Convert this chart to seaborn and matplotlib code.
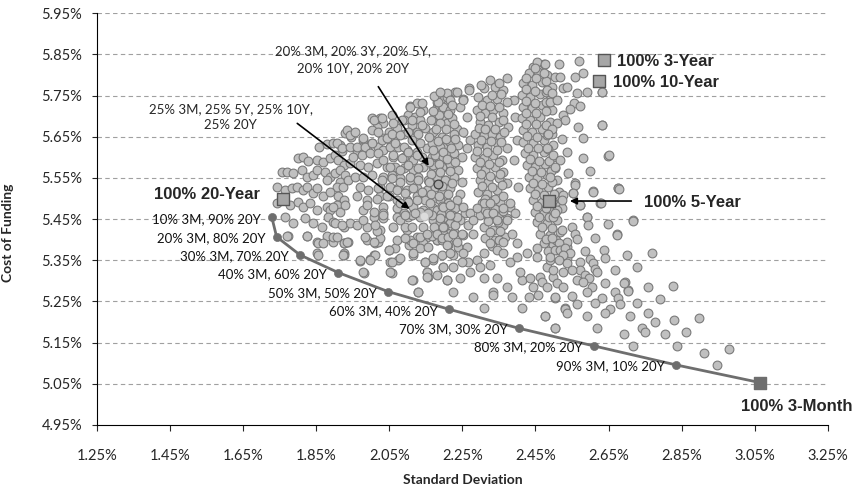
import matplotlib
matplotlib.use("Agg")
import matplotlib.pyplot as plt
import matplotlib.ticker as mticker
import pandas as pd
import seaborn as sns

# ---------------- data (all values in percent) ----------------
x_ticks = [1.25, 1.45, 1.65, 1.85, 2.05, 2.25, 2.45, 2.65, 2.85, 3.05, 3.25]
y_ticks = [4.95, 5.05, 5.15, 5.25, 5.35, 5.45, 5.55, 5.65, 5.75, 5.85, 5.95]

frontier_labels = ["10% 3M, 90% 20Y", "20% 3M, 80% 20Y", "30% 3M, 70% 20Y",
                   "40% 3M, 60% 20Y", "50% 3M, 50% 20Y", "60% 3M, 40% 20Y",
                   "70% 3M, 30% 20Y", "80% 3M, 20% 20Y", "90% 3M, 10% 20Y"]
frontier_sd = [1.729, 1.742, 1.806, 1.911, 2.047, 2.214, 2.404, 2.610, 2.834]
frontier_cost = [5.454, 5.407, 5.363, 5.320, 5.274, 5.231, 5.185, 5.142, 5.096]

single_names = ["100% 3-Month", "100% 20-Year", "100% 5-Year", "100% 3-Year", "100% 10-Year"]
single_sd = [3.064, 1.760, 2.488, 2.638, 2.623]
single_cost = [5.053, 5.499, 5.494, 5.837, 5.786]

equal20_pt = (2.184, 5.535)   # 20% in each of five
equal25_pt = (2.145, 5.458)   # 25% in each of four

# simulated portfolios, read off the chart region by region
left_pts = [
    (1.929, 5.660), (1.946, 5.649), (1.858, 5.626), (1.879, 5.632), (1.897, 5.634),
    (1.916, 5.630), (1.920, 5.616), (1.800, 5.598), (1.815, 5.602), (1.829, 5.591),
    (1.852, 5.594), (1.870, 5.590), (1.888, 5.598), (1.902, 5.606), (1.911, 5.594),
    (1.925, 5.582), (1.943, 5.586), (1.756, 5.565), (1.771, 5.565), (1.788, 5.561),
    (1.811, 5.569), (1.824, 5.553), (1.842, 5.557), (1.852, 5.569), (1.874, 5.565),
    (1.888, 5.553), (1.902, 5.561), (1.916, 5.569), (1.930, 5.557), (1.916, 5.541),
    (1.879, 5.545), (1.906, 5.529), (1.924, 5.529), (1.938, 5.545), (1.742, 5.529),
    (1.765, 5.521), (1.783, 5.525), (1.797, 5.529), (1.815, 5.521), (1.824, 5.529),
    (1.842, 5.513), (1.852, 5.525), (1.870, 5.505), (1.888, 5.517), (1.911, 5.505),
    (1.925, 5.497), (1.742, 5.488), (1.779, 5.484), (1.801, 5.492), (1.815, 5.480),
    (1.833, 5.488), (1.852, 5.472), (1.879, 5.480), (1.888, 5.472), (1.906, 5.484),
    (1.916, 5.468), (1.929, 5.484), (1.765, 5.454), (1.788, 5.440), (1.820, 5.452),
    (1.842, 5.440), (1.865, 5.432), (1.883, 5.456), (1.897, 5.444), (1.925, 5.432),
    (1.943, 5.440), (1.774, 5.408), (1.824, 5.408), (1.852, 5.395), (1.879, 5.408),
    (1.897, 5.395), (1.925, 5.391), (1.852, 5.367), (1.925, 5.367),
]

lower_left_pts = [
    (1.770, 5.409), (1.824, 5.409), (1.856, 5.391), (1.870, 5.393), (1.896, 5.406),
    (1.925, 5.391), (1.936, 5.395), (1.925, 5.363), (1.854, 5.363), (1.970, 5.349),
    (1.998, 5.352), (2.007, 5.363), (2.011, 5.391), (2.020, 5.395), (2.048, 5.375),
    (2.066, 5.381), (2.052, 5.345), (2.075, 5.351), (2.103, 5.387), (2.116, 5.363),
    (2.125, 5.407), (2.148, 5.345), (2.171, 5.351), (2.134, 5.391), (2.153, 5.407),
    (1.980, 5.320), (2.057, 5.320), (2.116, 5.302), (2.157, 5.310), (2.153, 5.322),
    (2.198, 5.333), (2.130, 5.274), (2.207, 5.302), (2.180, 5.416), (2.212, 5.387),
    (2.194, 5.363),
]

band_a_pts = [
    (2.107, 5.725), (2.125, 5.731), (2.143, 5.715), (2.102, 5.703), (2.121, 5.699),
    (2.134, 5.691), (2.089, 5.691), (2.112, 5.679), (2.148, 5.671), (2.125, 5.662),
    (2.002, 5.695), (2.025, 5.695), (2.034, 5.683), (2.016, 5.675), (2.071, 5.671),
    (2.048, 5.662), (2.089, 5.658), (2.066, 5.650), (2.034, 5.646), (2.052, 5.642),
    (1.934, 5.667), (1.943, 5.654), (1.906, 5.634), (1.920, 5.622), (1.943, 5.626),
    (1.979, 5.642), (1.970, 5.626), (1.989, 5.618), (1.961, 5.610), (2.002, 5.634),
    (2.020, 5.626), (2.034, 5.618), (2.052, 5.626), (2.075, 5.626), (2.098, 5.618),
    (2.125, 5.614), (2.153, 5.622), (2.061, 5.602), (2.089, 5.602), (2.116, 5.594),
    (2.139, 5.602), (2.043, 5.577), (2.066, 5.577), (2.089, 5.574), (2.116, 5.569),
    (2.143, 5.577), (2.034, 5.553), (2.057, 5.557), (2.080, 5.549), (2.107, 5.545),
    (2.130, 5.553), (2.157, 5.545), (2.025, 5.529), (2.052, 5.529), (2.075, 5.525),
    (2.098, 5.521), (2.125, 5.525), (2.153, 5.521), (2.025, 5.505), (2.048, 5.505),
    (2.071, 5.497), (2.098, 5.497), (2.125, 5.505), (2.148, 5.497), (2.034, 5.480),
    (2.071, 5.476), (2.116, 5.480), (2.143, 5.472), (2.007, 5.456), (2.034, 5.452),
    (2.071, 5.456), (2.102, 5.456), (2.134, 5.456), (1.988, 5.432), (2.025, 5.424),
    (2.061, 5.432), (2.098, 5.424), (2.143, 5.432), (1.988, 5.399), (2.025, 5.403),
    (2.071, 5.399), (2.107, 5.399), (2.143, 5.391), (2.007, 5.691), (2.029, 5.695),
    (2.002, 5.667), (2.020, 5.662), (1.979, 5.646), (1.956, 5.662), (1.961, 5.626),
    (1.984, 5.626), (2.002, 5.634), (2.029, 5.642), (2.043, 5.646), (1.952, 5.602),
    (1.975, 5.606), (1.998, 5.610), (2.020, 5.610), (1.970, 5.581), (1.993, 5.577),
    (2.016, 5.586), (2.034, 5.594), (1.956, 5.553), (1.979, 5.553), (2.002, 5.557),
    (2.029, 5.545), (1.970, 5.529), (1.993, 5.521), (2.020, 5.525), (1.961, 5.505),
    (1.988, 5.496), (2.016, 5.500), (2.043, 5.505), (1.979, 5.472), (2.007, 5.468),
    (2.034, 5.464), (2.057, 5.703), (2.061, 5.683), (2.084, 5.691), (2.107, 5.723),
    (2.139, 5.731), (2.134, 5.711), (2.112, 5.691), (2.139, 5.679), (2.057, 5.658),
    (2.080, 5.654), (2.102, 5.662), (2.130, 5.658), (2.066, 5.634), (2.089, 5.626),
    (2.112, 5.642), (2.134, 5.634), (2.061, 5.606), (2.084, 5.598), (2.102, 5.614),
    (2.125, 5.606), (2.052, 5.577), (2.080, 5.569), (2.102, 5.581), (2.130, 5.573),
    (2.057, 5.549), (2.080, 5.541), (2.107, 5.553), (2.130, 5.545), (2.070, 5.521),
    (2.093, 5.513), (2.116, 5.525), (2.139, 5.517), (2.080, 5.488), (2.102, 5.492),
    (2.125, 5.496), (2.089, 5.464), (2.112, 5.460), (2.134, 5.468), (2.157, 5.464),
]

band_b_pts = [
    (2.207, 5.752), (2.198, 5.739), (2.180, 5.723), (2.194, 5.715), (2.207, 5.727),
    (2.175, 5.703), (2.198, 5.699), (2.184, 5.683), (2.207, 5.683), (2.175, 5.634),
    (2.198, 5.626), (2.166, 5.602), (2.189, 5.594), (2.207, 5.610), (2.171, 5.574),
    (2.198, 5.577), (2.180, 5.553), (2.203, 5.545), (2.175, 5.533), (2.198, 5.521),
    (2.175, 5.501), (2.198, 5.497), (2.171, 5.476), (2.198, 5.472), (2.171, 5.448),
    (2.198, 5.452), (2.180, 5.424), (2.207, 5.416), (2.180, 5.399), (2.207, 5.747),
    (2.230, 5.760), (2.253, 5.743), (2.180, 5.735), (2.198, 5.723), (2.185, 5.703),
    (2.216, 5.715), (2.244, 5.723), (2.267, 5.768), (2.189, 5.683), (2.221, 5.695),
    (2.235, 5.670), (2.262, 5.699), (2.171, 5.662), (2.194, 5.650), (2.226, 5.658),
    (2.253, 5.662), (2.271, 5.642), (2.166, 5.634), (2.189, 5.626), (2.216, 5.638),
    (2.239, 5.630), (2.262, 5.622), (2.175, 5.606), (2.198, 5.602), (2.226, 5.610),
    (2.248, 5.602), (2.171, 5.581), (2.194, 5.577), (2.216, 5.585), (2.239, 5.569),
    (2.180, 5.553), (2.203, 5.545), (2.226, 5.553), (2.248, 5.541), (2.175, 5.529),
    (2.194, 5.517), (2.216, 5.525), (2.244, 5.512), (2.189, 5.496), (2.212, 5.488),
    (2.235, 5.496), (2.180, 5.472), (2.207, 5.464), (2.230, 5.476), (2.257, 5.464),
    (2.189, 5.444), (2.216, 5.440), (2.244, 5.448), (2.198, 5.415), (2.226, 5.419),
    (2.253, 5.411), (2.180, 5.399), (2.212, 5.391), (2.239, 5.383), (2.207, 5.756),
    (2.235, 5.760), (2.267, 5.764), (2.184, 5.735), (2.253, 5.739),
    (2.172, 5.748), (2.190, 5.758), (2.215, 5.740), (2.170, 5.712), (2.222, 5.728),
    (2.165, 5.690), (2.212, 5.705), (2.178, 5.670), (2.205, 5.668), (2.228, 5.680),
    (2.160, 5.650), (2.182, 5.640), (2.205, 5.645), (2.230, 5.645), (2.170, 5.618),
    (2.196, 5.614), (2.220, 5.622), (2.160, 5.590), (2.185, 5.585), (2.208, 5.595),
    (2.230, 5.590), (2.165, 5.560), (2.190, 5.565), (2.215, 5.568), (2.160, 5.540),
    (2.195, 5.530), (2.222, 5.538), (2.165, 5.512), (2.185, 5.505), (2.210, 5.510),
    (2.162, 5.488), (2.195, 5.482), (2.222, 5.460), (2.168, 5.460), (2.192, 5.462),
    (2.172, 5.432), (2.200, 5.430), (2.230, 5.435), (2.195, 5.400), (2.168, 5.410),
]

band_c_pts = [
    (2.326, 5.788), (2.371, 5.792), (2.308, 5.768), (2.340, 5.772), (2.362, 5.764),
    (2.390, 5.739), (2.294, 5.747), (2.317, 5.739), (2.344, 5.743), (2.371, 5.735),
    (2.289, 5.715), (2.312, 5.707), (2.335, 5.715), (2.362, 5.707), (2.299, 5.687),
    (2.321, 5.679), (2.349, 5.687), (2.376, 5.675), (2.285, 5.658), (2.308, 5.654),
    (2.330, 5.658), (2.353, 5.650), (2.294, 5.630), (2.317, 5.626), (2.344, 5.634),
    (2.371, 5.622), (2.285, 5.602), (2.308, 5.598), (2.335, 5.606), (2.358, 5.594),
    (2.289, 5.573), (2.312, 5.569), (2.340, 5.577), (2.362, 5.565), (2.299, 5.545),
    (2.321, 5.541), (2.349, 5.549), (2.371, 5.537), (2.294, 5.517), (2.317, 5.512),
    (2.344, 5.521), (2.303, 5.488), (2.326, 5.484), (2.353, 5.492), (2.381, 5.480),
    (2.299, 5.460), (2.321, 5.456), (2.349, 5.464), (2.371, 5.452), (2.308, 5.432),
    (2.335, 5.423), (2.362, 5.436), (2.312, 5.403), (2.340, 5.399), (2.367, 5.407),
    (2.394, 5.699), (2.399, 5.642), (2.390, 5.594), (2.403, 5.529), (2.394, 5.464),
    (2.300, 5.775), (2.350, 5.780), (2.330, 5.752), (2.355, 5.755), (2.305, 5.728),
    (2.325, 5.725), (2.350, 5.722), (2.298, 5.700), (2.330, 5.698), (2.360, 5.692),
    (2.295, 5.672), (2.312, 5.668), (2.340, 5.668), (2.365, 5.662), (2.300, 5.643),
    (2.328, 5.640), (2.355, 5.637), (2.290, 5.615), (2.318, 5.612), (2.345, 5.618),
    (2.298, 5.588), (2.322, 5.585), (2.350, 5.588), (2.300, 5.560), (2.325, 5.555),
    (2.352, 5.560), (2.305, 5.530), (2.330, 5.528), (2.358, 5.533), (2.312, 5.500),
    (2.338, 5.500), (2.362, 5.505), (2.312, 5.472), (2.338, 5.475), (2.360, 5.470),
    (2.320, 5.445), (2.348, 5.442), (2.325, 5.418), (2.352, 5.420), (2.330, 5.385),
]

band_d_pts = [
    (2.444, 5.820), (2.472, 5.828), (2.431, 5.804), (2.458, 5.808), (2.481, 5.800),
    (2.417, 5.780), (2.440, 5.776), (2.467, 5.784), (2.495, 5.772), (2.412, 5.751),
    (2.435, 5.747), (2.463, 5.755), (2.490, 5.743), (2.417, 5.723), (2.440, 5.719),
    (2.467, 5.727), (2.495, 5.715), (2.412, 5.695), (2.435, 5.691), (2.463, 5.699),
    (2.490, 5.687), (2.417, 5.666), (2.440, 5.662), (2.467, 5.670), (2.495, 5.658),
    (2.417, 5.638), (2.444, 5.634), (2.472, 5.642), (2.499, 5.630), (2.422, 5.610),
    (2.444, 5.606), (2.472, 5.614), (2.499, 5.602), (2.426, 5.581), (2.449, 5.577),
    (2.476, 5.585), (2.504, 5.573), (2.431, 5.553), (2.454, 5.549), (2.481, 5.557),
    (2.508, 5.545), (2.435, 5.525), (2.458, 5.521), (2.485, 5.529), (2.513, 5.517),
    (2.444, 5.496), (2.467, 5.492), (2.495, 5.500), (2.517, 5.488), (2.449, 5.468),
    (2.472, 5.464), (2.499, 5.472), (2.454, 5.444), (2.481, 5.440), (2.508, 5.448),
    (2.463, 5.415), (2.490, 5.411), (2.517, 5.419), (2.472, 5.391), (2.499, 5.387),
    (2.455, 5.832), (2.425, 5.792), (2.452, 5.792), (2.480, 5.785), (2.425, 5.765),
    (2.450, 5.762), (2.478, 5.760), (2.425, 5.737), (2.450, 5.733), (2.478, 5.735),
    (2.425, 5.708), (2.452, 5.708), (2.478, 5.712), (2.425, 5.680), (2.452, 5.680),
    (2.480, 5.678), (2.428, 5.652), (2.455, 5.650), (2.482, 5.655), (2.430, 5.622),
    (2.458, 5.622), (2.485, 5.620), (2.435, 5.595), (2.460, 5.592), (2.488, 5.592),
    (2.440, 5.566), (2.465, 5.565), (2.492, 5.568), (2.442, 5.538), (2.468, 5.535),
    (2.495, 5.540), (2.448, 5.510), (2.472, 5.508), (2.500, 5.512), (2.455, 5.482),
    (2.480, 5.478), (2.505, 5.485), (2.460, 5.455), (2.488, 5.455), (2.468, 5.430),
    (2.495, 5.428), (2.478, 5.402), (2.505, 5.400), (2.455, 5.380), (2.485, 5.372),
]

upper_right_pts = [
    (2.476, 5.828), (2.449, 5.816), (2.472, 5.804), (2.504, 5.796), (2.517, 5.796),
    (2.515, 5.827), (2.570, 5.834), (2.558, 5.796), (2.581, 5.806), (2.526, 5.768),
    (2.535, 5.772), (2.481, 5.764), (2.494, 5.756), (2.590, 5.760), (2.631, 5.760),
    (2.563, 5.756), (2.490, 5.735), (2.508, 5.739), (2.554, 5.731), (2.572, 5.725),
    (2.545, 5.717), (2.526, 5.703), (2.531, 5.691), (2.508, 5.683), (2.494, 5.670),
    (2.567, 5.674), (2.631, 5.679), (2.581, 5.646), (2.522, 5.644), (2.485, 5.658),
    (2.535, 5.614), (2.581, 5.598), (2.649, 5.603), (2.499, 5.606), (2.517, 5.593),
    (2.481, 5.622), (2.504, 5.577), (2.540, 5.563), (2.599, 5.567), (2.490, 5.553),
    (2.558, 5.537), (2.552, 5.514), (2.607, 5.518), (2.677, 5.525), (2.526, 5.508),
    (2.517, 5.484), (2.522, 5.476), (2.508, 5.472), (2.572, 5.484), (2.627, 5.488),
    (2.499, 5.456), (2.590, 5.456), (2.718, 5.448),
]

lower_mid_pts = [
    (1.897, 5.480), (1.902, 5.440), (1.920, 5.436), (1.906, 5.407), (1.934, 5.395),
    (1.924, 5.363), (1.961, 5.436), (1.979, 5.448), (1.988, 5.484), (1.984, 5.407),
    (2.007, 5.395), (2.016, 5.420), (2.034, 5.460), (2.011, 5.436), (2.048, 5.375),
    (2.011, 5.363), (1.997, 5.351), (1.970, 5.351), (1.979, 5.322), (2.057, 5.347),
    (2.052, 5.322), (2.080, 5.355), (2.080, 5.448), (2.093, 5.432), (2.111, 5.432),
    (2.093, 5.403), (2.116, 5.391), (2.134, 5.407), (2.152, 5.415), (2.134, 5.379),
    (2.157, 5.383), (2.116, 5.367), (2.148, 5.347), (2.171, 5.355), (2.111, 5.302),
    (2.152, 5.322), (2.152, 5.310), (2.130, 5.274), (2.093, 5.460), (2.121, 5.464),
    (2.157, 5.464), (2.180, 5.415), (2.198, 5.432), (2.194, 5.403), (2.212, 5.407),
    (2.225, 5.415), (2.207, 5.387), (2.235, 5.395), (2.248, 5.415), (2.262, 5.383),
    (2.225, 5.363), (2.253, 5.367), (2.280, 5.415), (2.289, 5.351), (2.266, 5.347),
    (2.248, 5.347), (2.198, 5.334), (2.225, 5.334), (2.216, 5.367), (2.180, 5.314),
    (2.207, 5.302), (2.244, 5.306), (2.271, 5.322), (2.298, 5.334), (2.308, 5.367),
    (2.326, 5.339), (2.280, 5.262), (2.308, 5.306), (2.344, 5.306), (2.371, 5.286),
    (2.335, 5.274), (2.335, 5.266), (2.385, 5.262), (2.412, 5.302), (2.435, 5.306),
    (2.408, 5.322), (2.444, 5.286), (2.463, 5.310), (2.467, 5.298), (2.481, 5.286),
    (2.458, 5.266), (2.431, 5.262), (2.453, 5.359), (2.481, 5.334), (2.499, 5.310),
    (2.508, 5.294), (2.526, 5.322), (2.526, 5.286), (2.490, 5.351), (2.508, 5.375),
    (2.536, 5.383), (2.536, 5.355), (2.504, 5.258), (2.531, 5.233), (2.476, 5.215),
    (2.504, 5.185), (2.412, 5.233), (2.308, 5.233), (2.225, 5.274), (2.326, 5.391),
    (2.344, 5.375), (2.362, 5.367), (2.380, 5.347), (2.399, 5.359), (2.385, 5.415),
    (2.399, 5.391), (2.426, 5.367), (2.349, 5.399), (2.362, 5.395), (2.317, 5.464),
    (2.335, 5.464), (2.344, 5.448), (2.371, 5.448), (2.380, 5.488), (2.308, 5.488),
    (2.326, 5.488), (2.362, 5.476), (2.271, 5.464), (2.253, 5.480), (2.266, 5.436),
    (2.280, 5.448), (2.289, 5.476), (2.235, 5.456), (2.216, 5.460), (2.198, 5.480),
    (2.216, 5.484), (2.189, 5.452),
]

lower_right_pts = [
    (2.558, 5.533), (2.608, 5.517), (2.677, 5.525), (2.552, 5.514), (2.572, 5.484),
    (2.629, 5.488), (2.522, 5.496), (2.504, 5.464), (2.590, 5.456), (2.593, 5.436),
    (2.649, 5.438), (2.718, 5.445), (2.674, 5.413), (2.613, 5.405), (2.549, 5.432),
    (2.558, 5.415), (2.563, 5.401), (2.522, 5.424), (2.535, 5.395), (2.515, 5.391),
    (2.494, 5.403), (2.504, 5.375), (2.517, 5.375), (2.531, 5.379), (2.545, 5.367),
    (2.490, 5.359), (2.526, 5.363), (2.513, 5.351), (2.586, 5.373), (2.636, 5.375),
    (2.640, 5.356), (2.700, 5.363), (2.768, 5.367), (2.599, 5.353), (2.608, 5.343),
    (2.572, 5.347), (2.535, 5.343), (2.499, 5.326), (2.572, 5.326), (2.549, 5.326),
    (2.586, 5.314), (2.613, 5.330), (2.618, 5.322), (2.668, 5.326), (2.727, 5.333),
    (2.595, 5.306), (2.563, 5.302), (2.581, 5.298), (2.604, 5.286), (2.590, 5.274),
    (2.640, 5.294), (2.695, 5.298), (2.704, 5.278), (2.668, 5.274), (2.677, 5.258),
    (2.681, 5.245), (2.759, 5.284), (2.827, 5.287), (2.791, 5.255), (2.727, 5.247),
    (2.631, 5.258), (2.613, 5.247), (2.549, 5.263), (2.504, 5.260), (2.563, 5.243),
    (2.654, 5.232), (2.640, 5.221), (2.531, 5.232), (2.535, 5.221), (2.590, 5.215),
    (2.709, 5.215), (2.759, 5.221), (2.777, 5.201), (2.741, 5.186), (2.750, 5.176),
    (2.691, 5.171), (2.618, 5.185), (2.504, 5.185), (2.476, 5.215), (2.830, 5.205),
    (2.804, 5.171), (2.862, 5.175), (2.898, 5.209), (2.718, 5.143), (2.836, 5.143),
    (2.911, 5.126), (2.946, 5.096), (2.980, 5.134), (2.631, 5.758), (2.633, 5.679),
    (2.651, 5.606), (2.679, 5.523), (2.672, 5.411), (2.704, 5.276), (2.692, 5.296),
]

cloud = pd.DataFrame(
    left_pts + lower_left_pts + band_a_pts + band_b_pts + band_c_pts
    + band_d_pts + upper_right_pts + lower_mid_pts + lower_right_pts,
    columns=["sd", "cost"],
)
frontier = pd.DataFrame({"sd": frontier_sd, "cost": frontier_cost, "label": frontier_labels})
singles = pd.DataFrame({"sd": single_sd, "cost": single_cost, "name": single_names})

# ---------------- style ----------------
sns.set_style("white")
plt.rcParams["font.family"] = ["Lato", "DejaVu Sans"]
bold_font = ["Liberation Sans", "DejaVu Sans"]

fig = plt.figure(figsize=(8.56, 4.94), dpi=100)
ax = fig.add_axes([0.1130, 0.1397, 0.8543, 0.8334])

for y in y_ticks[1:]:
    ax.axhline(y, color="#a0a0a0", lw=0.8, ls=(0, (4, 3)), zorder=0)

sns.scatterplot(data=cloud, x="sd", y="cost", s=40, color="#c0c0c0",
                edgecolor="#7a7a7a", linewidth=0.8, ax=ax, zorder=3, legend=False)

# highlighted equal-weight portfolios
ax.scatter([equal20_pt[0]], [equal20_pt[1]], s=40, color="#a8a8a8",
           edgecolor="#404040", linewidth=0.9, zorder=4)
ax.scatter([equal25_pt[0]], [equal25_pt[1]], s=40, color="#dcdcdc",
           edgecolor="#c0c0c0", linewidth=0.8, zorder=4)

# efficient frontier: 3M / 20Y mixes, ending at 100% 3-Month
line_df = pd.concat([frontier[["sd", "cost"]], singles.iloc[[0]][["sd", "cost"]]])
sns.lineplot(data=line_df, x="sd", y="cost", sort=False, color="#6e6e6e",
             lw=2.0, ax=ax, zorder=5)
sns.scatterplot(data=frontier, x="sd", y="cost", s=34, color="#6e6e6e",
                edgecolor="#6e6e6e", ax=ax, zorder=6, legend=False)

# single-instrument portfolios
sns.scatterplot(data=singles.iloc[1:], x="sd", y="cost", marker="s", s=70,
                color="#a6a6a6", edgecolor="#555555", linewidth=1.0, ax=ax,
                zorder=7, legend=False)
sns.scatterplot(data=singles.iloc[[0]], x="sd", y="cost", marker="s", s=70,
                color="#6e6e6e", edgecolor="#6e6e6e", linewidth=1.0, ax=ax,
                zorder=7, legend=False)

for _, r in frontier.iterrows():
    ax.annotate(r["label"], (r["sd"], r["cost"]), xytext=(-8, -1),
                textcoords="offset points", ha="right", va="center",
                fontsize=9.5, color="#111111", zorder=8)

bold_kw = dict(fontsize=12, fontweight="bold", family=bold_font, va="center", zorder=8)
ax.text(1.697, 5.510, "100% 20-Year", ha="right", **bold_kw)
ax.text(2.673, 5.8325, "100% 3-Year", ha="left", **bold_kw)
ax.text(2.661, 5.7824, "100% 10-Year", ha="left", **bold_kw)
ax.text(2.747, 5.490, "100% 5-Year", ha="left", **bold_kw)
ax.text(3.013, 4.996, "100% 3-Month", ha="left", **bold_kw)

ax.text(1.951, 5.8373, "20% 3M, 20% 3Y, 20% 5Y,\n20% 10Y, 20% 20Y", ha="center",
        va="center", fontsize=9.5, linespacing=1.45, zorder=8)
ax.text(1.617, 5.698, "25% 3M, 25% 5Y, 25% 10Y,\n25% 20Y", ha="center",
        va="center", fontsize=9.5, linespacing=1.45, zorder=8)

arrow_kw = dict(arrowstyle="-|>", color="black", lw=1.2, mutation_scale=10)
ax.annotate("", xy=(2.162, 5.5735), xytext=(2.016, 5.7775), arrowprops=arrow_kw, zorder=9)
ax.annotate("", xy=(2.1116, 5.4705), xytext=(1.7924, 5.6867), arrowprops=arrow_kw, zorder=9)
ax.annotate("", xy=(2.5364, 5.494), xytext=(2.7196, 5.494), arrowprops=arrow_kw, zorder=9)

# ---------------- axes ----------------
ax.set_xlim(x_ticks[0], x_ticks[-1])
ax.set_ylim(y_ticks[0], y_ticks[-1])
ax.xaxis.set_major_locator(mticker.FixedLocator(x_ticks))
ax.yaxis.set_major_locator(mticker.FixedLocator(y_ticks))
ax.xaxis.set_major_formatter(mticker.FuncFormatter(lambda v, p: f"{v:.2f}%"))
ax.yaxis.set_major_formatter(mticker.FuncFormatter(lambda v, p: f"{v:.2f}%"))
ax.tick_params(axis="x", direction="out", length=4, width=0.8, pad=13,
               labelsize=10.5, bottom=True)
ax.tick_params(axis="y", direction="out", length=3.5, width=0.8, pad=7,
               labelsize=10.5, left=True)
sns.despine(ax=ax)
for side in ["left", "bottom"]:
    ax.spines[side].set_color("black")
    ax.spines[side].set_linewidth(0.8)

ax.set_xlabel("Standard Deviation", fontsize=10, fontweight="bold")
ax.set_ylabel("Cost of Funding", fontsize=10, fontweight="bold")
ax.xaxis.set_label_coords(0.5, -0.12)
ax.yaxis.set_label_coords(-0.113, 0.466)

fig.savefig("out.png", dpi=100)
